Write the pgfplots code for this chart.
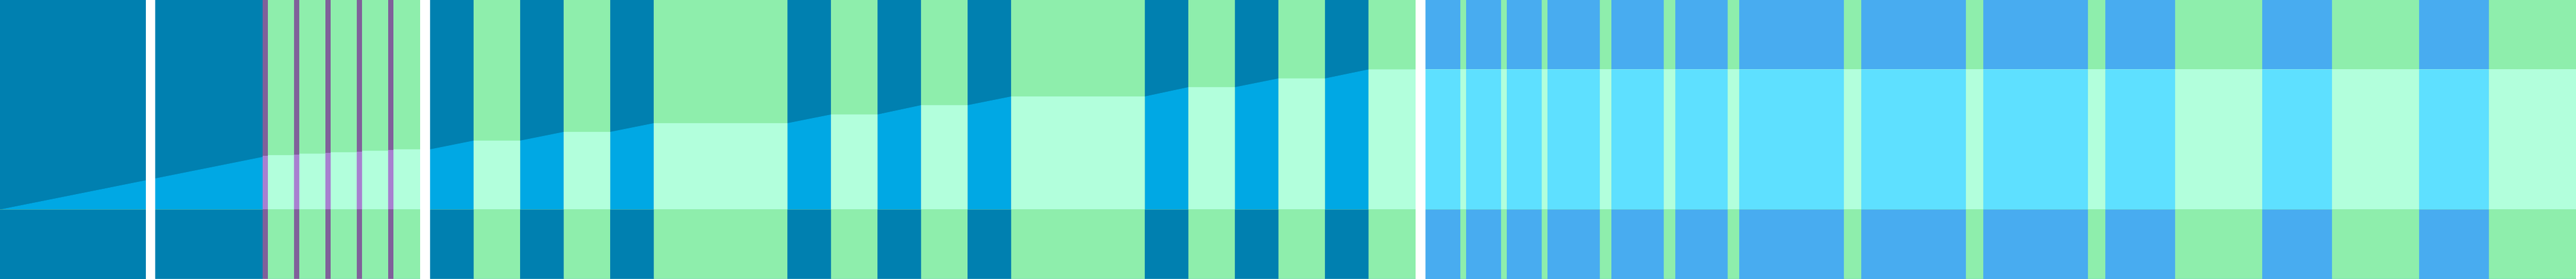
\documentclass[border=0pt]{standalone}
\usepackage{pgfplots}
\pgfplotsset{compat=1.18}

\definecolor{tealdark}{RGB}{0,128,176}
\definecolor{teallight}{RGB}{0,168,228}
\definecolor{greendark}{RGB}{142,238,172}
\definecolor{greenlight}{RGB}{178,255,220}
\definecolor{bluedark}{RGB}{72,172,240}
\definecolor{bluelight}{RGB}{94,224,255}
\definecolor{purpledark}{RGB}{128,96,154}
\definecolor{purplelight}{RGB}{168,128,208}

\begin{document}
\begin{tikzpicture}
	\begin{axis}[
			width=44.33cm, height=4.8cm, scale only axis,
			xmin=0, xmax=4433, ymin=0, ymax=480,
			axis line style={draw=none}, ticks=none,
			axis background/.style={fill=greendark},
		]
		% dark teal bands, full height
		\addplot [ybar interval, fill=tealdark, draw=none] coordinates {
				(0,480) (452,0) (740,480) (815,0) (895,480) (970,0) (1050,480) (1125,0)
				(1355,480) (1430,0) (1510,480) (1585,0) (1665,480) (1740,0) (1970,480) (2045,0)
				(2125,480) (2200,0) (2280,480) (2355,0) (2436,0)
			};
		% level reached so far (light part under the line)
		\addplot [fill=teallight, draw=none] coordinates {
				(0,119.5) (452,210) (740,223) (815,238) (895,238) (970,253) (1050,253) (1125,268)
				(1355,268) (1430,283) (1510,283) (1585,299) (1665,299) (1740,314) (1970,314)
				(2045,330) (2125,330) (2200,345) (2280,345) (2355,360.5) (2436,360.5) (2436,119.5)
			};
		% green bands of the left part
		\addplot [ybar interval, fill=greendark, draw=none] coordinates {
				(452,480) (723,0) (815,480) (895,0) (970,480) (1050,0) (1125,480) (1355,0)
				(1430,480) (1510,0) (1585,480) (1665,0) (1740,480) (1970,0) (2045,480) (2125,0)
				(2200,480) (2280,0) (2355,480) (2436,0)
			};
		\addplot [ybar interval, fill=greenlight, draw=none] coordinates {
				(452,213) (506,215.5) (560,218) (614,220.5) (668,223) (723,0) (815,238) (895,0)
				(970,253) (1050,0) (1125,268) (1355,0) (1430,283) (1510,0) (1585,299) (1665,0)
				(1740,314) (1970,0) (2045,330) (2125,0) (2200,345) (2280,0) (2355,360.5) (2436,0)
			};
		% right part
		\addplot [ybar interval, fill=bluedark, draw=none] coordinates {
				(2453,480) (2513,0) (2523,480) (2583,0) (2593,480) (2653,0) (2663,480) (2753,0)
				(2773,480) (2863,0) (2883,480) (2973,0) (2993,480) (3173,0) (3203,480) (3383,0)
				(3413,480) (3593,0) (3623,480) (3743,0) (3893,480) (4013,0) (4163,480) (4283,0)
				(4433,0)
			};
		\addplot [ybar interval, fill=greenlight, draw=none] coordinates {(2436,360.5) (4433,0)};
		\addplot [ybar interval, fill=bluelight, draw=none] coordinates {
				(2453,360.5) (2513,0) (2523,360.5) (2583,0) (2593,360.5) (2653,0) (2663,360.5) (2753,0)
				(2773,360.5) (2863,0) (2883,360.5) (2973,0) (2993,360.5) (3173,0) (3203,360.5) (3383,0)
				(3413,360.5) (3593,0) (3623,360.5) (3743,0) (3893,360.5) (4013,0) (4163,360.5) (4283,0)
				(4433,0)
			};
		% below the baseline
		\addplot [ybar interval, fill=greendark, draw=none] coordinates {(0,119.5) (4433,0)};
		\addplot [ybar interval, fill=tealdark, draw=none] coordinates {
				(0,119.5) (452,0) (740,119.5) (815,0) (895,119.5) (970,0) (1050,119.5) (1125,0)
				(1355,119.5) (1430,0) (1510,119.5) (1585,0) (1665,119.5) (1740,0) (1970,119.5) (2045,0)
				(2125,119.5) (2200,0) (2280,119.5) (2355,0) (2436,0)
			};
		\addplot [ybar interval, fill=bluedark, draw=none] coordinates {
				(2453,119.5) (2513,0) (2523,119.5) (2583,0) (2593,119.5) (2653,0) (2663,119.5) (2753,0)
				(2773,119.5) (2863,0) (2883,119.5) (2973,0) (2993,119.5) (3173,0) (3203,119.5) (3383,0)
				(3413,119.5) (3593,0) (3623,119.5) (3743,0) (3893,119.5) (4013,0) (4163,119.5) (4283,0)
				(4433,0)
			};
		% purple markers
		\addplot [ycomb, purpledark, line width=0.09cm] coordinates {
				(456.5,480) (510.5,480) (564.5,480) (618.5,480) (672.5,480)
			};
		\addplot [ycomb, purplelight, line width=0.09cm] coordinates {
				(456.5,211.5) (510.5,214.25) (564.5,216.75) (618.5,219.25) (672.5,221.75)
			};
		\addplot [ycomb, purpledark, line width=0.09cm] coordinates {
				(456.5,119.5) (510.5,119.5) (564.5,119.5) (618.5,119.5) (672.5,119.5)
			};
		% gaps
		\addplot [ybar interval, fill=white, draw=none] coordinates {
				(251,480) (267,0) (723,480) (740,0) (2436,480) (2453,0)
			};
	\end{axis}
\end{tikzpicture}
\end{document}
